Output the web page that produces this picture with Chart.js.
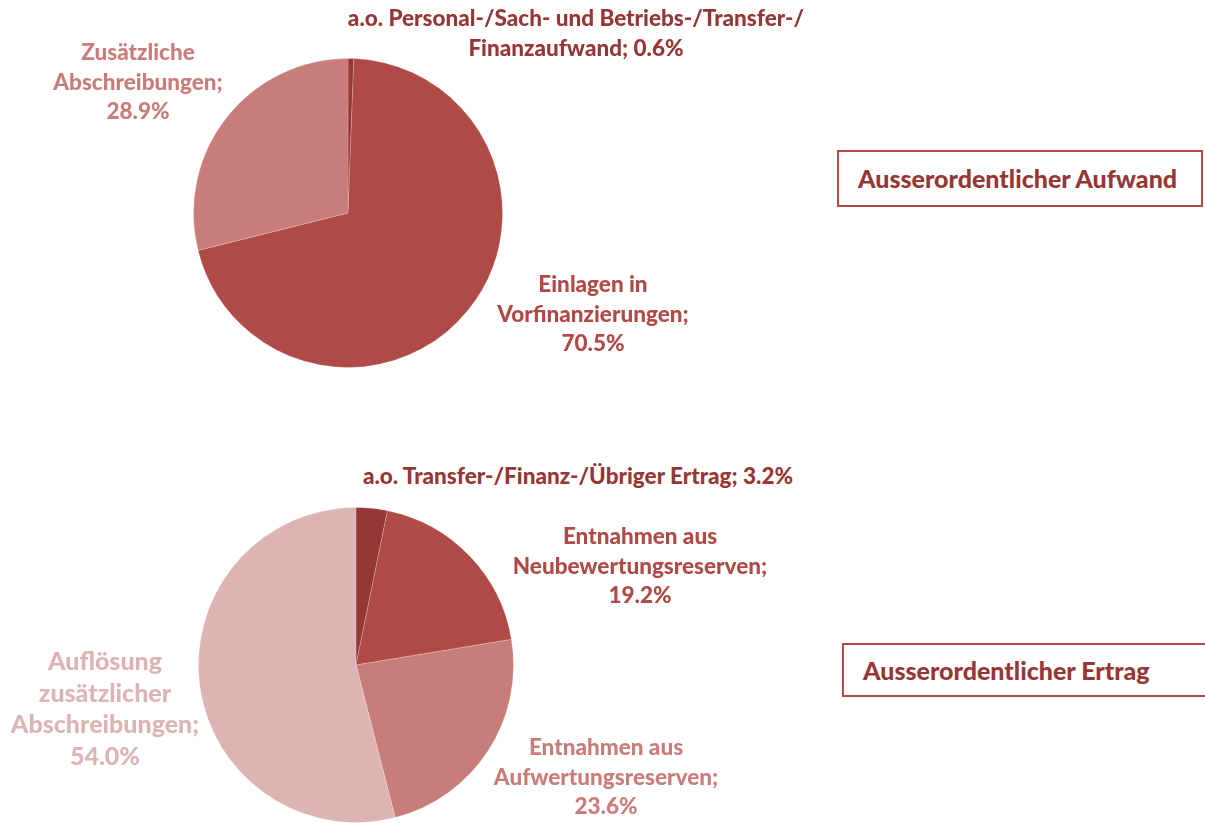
<!DOCTYPE html>
<html>
<head>
<meta charset="utf-8">
<script src="https://cdn.jsdelivr.net/npm/chart.js@4"></script>
<style>
  html, body { margin: 0; padding: 0; background: #fff; }
  body { width: 1205px; height: 823px; position: relative; overflow: hidden;
         font-family: Lato, "Open Sans", sans-serif; font-weight: 900; }
  canvas { position: absolute; }
  .lbl { position: absolute; text-align: center; white-space: nowrap;
         font-size: 22.5px; line-height: 29.5px; transform: translateX(-50%); }
  .lbl.big { font-size: 25px; line-height: 31.5px; }
  .box { position: absolute; border: 2px solid #b04a47; box-sizing: border-box;
         color: #953735; font-size: 25px; line-height: 1; padding-left: 19px;
         display: flex; align-items: center; }
</style>
</head>
<body>
<canvas id="aufwand"></canvas>
<canvas id="ertrag"></canvas>

<script>
// Ausserordentlicher Aufwand (Anteile in %)
const aufwandLabels = [
  ['a.o. Personal-/Sach- und Betriebs-/Transfer-/', 'Finanzaufwand;'],
  ['Einlagen in', 'Vorfinanzierungen;'],
  ['Zusätzliche', 'Abschreibungen;']
];
const aufwandValues = [0.6, 70.5, 28.9];
const aufwandColors = ['#953735', '#b04a47', '#c97d7b'];

// Ausserordentlicher Ertrag (Anteile in %)
const ertragLabels = [
  ['a.o. Transfer-/Finanz-/Übriger Ertrag;'],
  ['Entnahmen aus', 'Neubewertungsreserven;'],
  ['Entnahmen aus', 'Aufwertungsreserven;'],
  ['Auflösung', 'zusätzlicher', 'Abschreibungen;']
];
const ertragValues = [3.2, 19.2, 23.6, 54.0];
const ertragColors = ['#953735', '#b04a47', '#c97d7b', '#ddb4b4'];

// Layout: Kreis (links, oben, Grösse) und Beschriftungen (Mitte x, oben y)
const aufwandPie = { left: 193, top: 58, size: 310 };
const ertragPie = { left: 198, top: 507, size: 316 };
const aufwandLabelPos = [[576, 3], [593, 269], [138, 37]];
const ertragLabelPos = [[578, 461], [640, 521], [606, 732], [105, 645]];
// Wert auf gleicher Zeile für die kurzen Einträge
const aufwandInline = [true, false, false];
const ertragInline = [true, false, false, false];
const ertragBig = [false, false, false, true];

function fmt(v) {
    return v.toFixed(1) + '%';
}

/**
 * Kreisdiagramm zeichnen
 */
function drawPie(id, pos, values, colors) {
    const cv = document.getElementById(id);
    cv.style.left = pos.left + 'px';
    cv.style.top = pos.top + 'px';
    cv.style.width = pos.size + 'px';
    cv.style.height = pos.size + 'px';
    cv.width = pos.size;
    cv.height = pos.size;
    return new Chart(cv.getContext('2d'), {
        type: 'pie',
        data: {
            labels: values.map(fmt),
            datasets: [{
                data: values,
                backgroundColor: colors,
                borderColor: 'rgba(255,255,255,0.2)',
                borderWidth: 1
            }]
        },
        options: {
            responsive: false,
            animation: false,
            layout: { padding: 0 },
            plugins: { legend: { display: false }, tooltip: { enabled: false } }
        }
    });
}

/**
 * Beschriftungen als Text
 */
function addLabels(labels, values, colors, positions, inline, big) {
    labels.forEach((lines, i) => {
        const div = document.createElement('div');
        div.className = 'lbl' + (big && big[i] ? ' big' : '');
        div.style.color = colors[i];
        div.style.left = positions[i][0] + 'px';
        div.style.top = positions[i][1] + 'px';
        const txt = lines.slice();
        if (inline[i]) {
            txt[txt.length - 1] += ' ' + fmt(values[i]);
        } else {
            txt.push(fmt(values[i]));
        }
        div.innerHTML = txt.join('<br>');
        document.body.appendChild(div);
    });
}

function addBox(text, left, top, width, height) {
    const div = document.createElement('div');
    div.className = 'box';
    div.style.left = left + 'px';
    div.style.top = top + 'px';
    div.style.width = width + 'px';
    div.style.height = height + 'px';
    div.textContent = text;
    document.body.appendChild(div);
}

drawPie('aufwand', aufwandPie, aufwandValues, aufwandColors);
drawPie('ertrag', ertragPie, ertragValues, ertragColors);
addLabels(aufwandLabels, aufwandValues, aufwandColors, aufwandLabelPos, aufwandInline);
addLabels(ertragLabels, ertragValues, ertragColors, ertragLabelPos, ertragInline, ertragBig);
addBox('Ausserordentlicher Aufwand', 837, 150, 366, 57);
addBox('Ausserordentlicher Ertrag', 842, 643, 380, 54);
</script>
</body>
</html>
